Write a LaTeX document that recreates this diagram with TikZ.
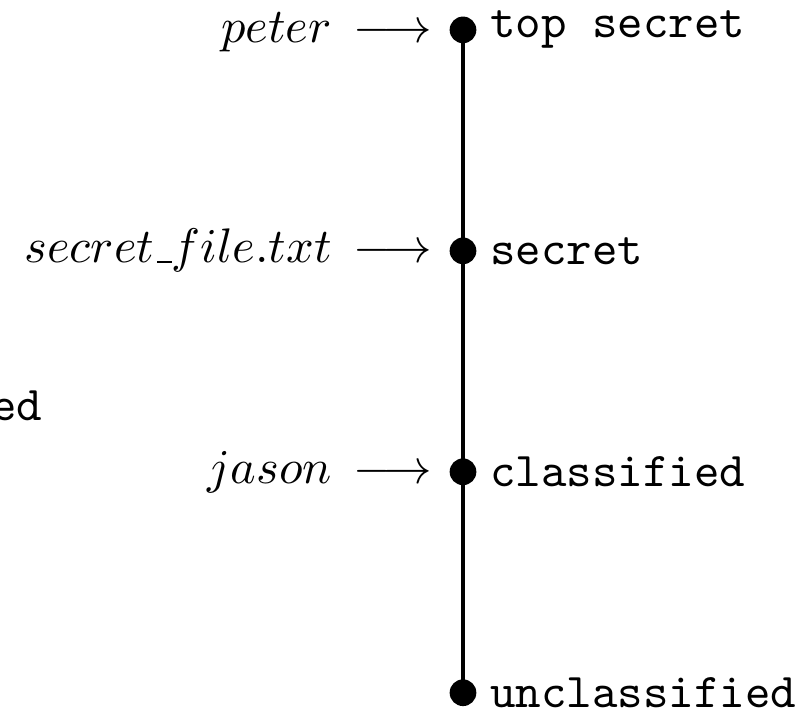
\documentclass[tikz,border=0pt]{standalone}
\newcommand{\lowbar}{\kern.06em\vbox{\hrule width.3em}}
\begin{document}
\begin{tikzpicture}[
  dot/.style={circle, fill, inner sep=0pt, minimum size=5.5pt},
  level/.style={anchor=west, inner xsep=2.5pt, inner ysep=3.33pt, font=\ttfamily},
  who/.style={anchor=base east, inner sep=3.33pt},
  lattice/.style={line width=1pt}]
\useasboundingbox (-95.4pt,-3.36pt) rectangle (71.7pt,142.74pt);
% the four security levels, bottom to top
\node[dot] (u) at (0,0)   {};
\node[dot] (c) at (0,1.6) {};
\node[dot] (s) at (0,3.2) {};
\node[dot] (t) at (0,4.8) {};
\draw[lattice] (u.center) -- (c.center) -- (s.center) -- (t.center);
% level names
\node[level] (tl) at (t.east) {top secret};
\node[level] (sl) at (s.east) {secret};
\node[level] (cl) at (c.east) {classified};
\node[level] (ul) at (u.east) {unclassified};
% subjects and objects assigned to levels
\node[who] (tw) at ([yshift=-2.5pt]t.west) {$peter\mskip3mu\longrightarrow$};
\node[who] (sw) at ([yshift=-2.5pt]s.west) {$secret\lowbar file.txt\mskip3mu\longrightarrow$};
\node[who] (cw) at ([yshift=-2.5pt]c.west) {$jason\mskip3mu\longrightarrow$};
% trailing text at the left edge
\node[anchor=base east, font=\ttfamily, inner sep=0pt] (edge) at (-86.46pt,56pt) {ed};
\end{tikzpicture}
\end{document}
